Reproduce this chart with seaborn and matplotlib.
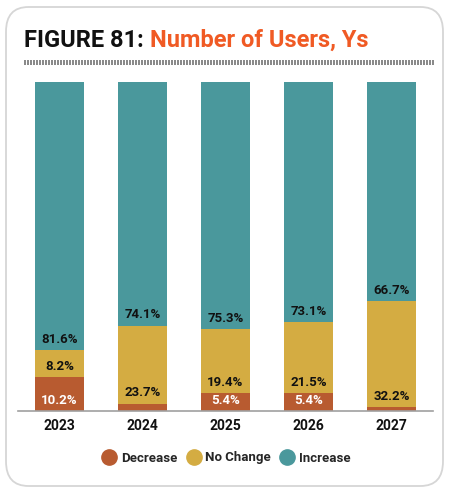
import numpy as np
import pandas as pd
import matplotlib
matplotlib.use("Agg")
import matplotlib.pyplot as plt
from matplotlib.lines import Line2D
from matplotlib.patches import FancyBboxPatch
import seaborn as sns

# Data (percent of respondents)
years = ["2023", "2024", "2025", "2026", "2027"]
decrease = [10.2, 2.2, 5.4, 5.4, 1.1]
no_change = [8.2, 23.7, 19.4, 21.5, 32.2]
increase = [81.6, 74.1, 75.3, 73.1, 66.7]

# Which decrease values get a label (tiny segments are unlabelled)
show_decrease = [True, False, True, True, False]

colors = {"Decrease": "#b85b30", "No Change": "#d4ac42", "Increase": "#4a989c"}

df = pd.DataFrame({"year": years, "Decrease": decrease,
                   "No Change": no_change, "Increase": increase})
df["cum_dec"] = df["Decrease"]
df["cum_nc"] = df["Decrease"] + df["No Change"]
df["cum_inc"] = df["cum_nc"] + df["Increase"]

sns.set_style("white")
plt.rcParams["font.family"] = ["Roboto", "DejaVu Sans"]

fig = plt.figure(figsize=(4.5, 4.92), dpi=100)
W, H = 450, 492

# card border
card = FancyBboxPatch((6 / W, 6 / H), 437 / W, 479 / H,
                      boxstyle="round,pad=0,rounding_size=0.05",
                      transform=fig.transFigure, facecolor="none",
                      edgecolor="#d6d6d6", linewidth=1.3, zorder=-1)
fig.patches.append(card)

ax = fig.add_axes([18 / W, 1 - 411 / H, 415 / W, 329 / H])
ax.set_facecolor("none")

# stacked bars: draw cumulative totals from the top layer down
for col, key in [("cum_inc", "Increase"), ("cum_nc", "No Change"),
                 ("cum_dec", "Decrease")]:
    sns.barplot(data=df, x="year", y=col, color=colors[key], width=0.6,
                ax=ax, saturation=1, linewidth=0, edgecolor="none")

ax.set_xlim(-0.5, 4.5)
ax.set_ylim(0, 100)
ax.set_xlabel("")
ax.set_ylabel("")
ax.set_yticks([])
for s in ["top", "right", "left"]:
    ax.spines[s].set_visible(False)
ax.spines["bottom"].set_color("#a0a0a0")
ax.spines["bottom"].set_linewidth(1.2)
ax.tick_params(axis="x", length=0, pad=6)
for lbl in ax.get_xticklabels():
    lbl.set_fontweight("bold")
    lbl.set_fontsize(10)
    lbl.set_color("#111111")

off = 3.3
for i in range(len(years)):
    if show_decrease[i]:
        ax.text(i, off, f"{decrease[i]}%", ha="center", va="center",
                color="white", fontsize=9.5, fontweight="bold")
    ax.text(i, df["cum_dec"][i] + off, f"{no_change[i]}%", ha="center",
            va="center", color="#111111", fontsize=9.5, fontweight="bold")
    ax.text(i, df["cum_nc"][i] + off, f"{increase[i]}%", ha="center",
            va="center", color="#111111", fontsize=9.5, fontweight="bold")

# title in two colours
t1 = fig.text(24 / W, 1 - 47 / H, "FIGURE 81:", fontsize=17,
              fontweight="bold", color="#111111")
fig.canvas.draw()
bb = t1.get_window_extent()
fig.text(bb.x1 / fig.bbox.width + 6 / W, 1 - 47 / H, "Number of Users, Ys",
         fontsize=17, fontweight="bold", color="#f05a24")

# hatched rule under the title
rule = Line2D([24 / W, 433 / W], [1 - 62 / H, 1 - 62 / H],
              transform=fig.transFigure, color="#8a8a8a", linewidth=3.6,
              dashes=(0.22, 0.34), solid_capstyle="butt", antialiased=False)
fig.lines.append(rule)

# legend
handles = [Line2D([0], [0], marker="o", linestyle="", markersize=11,
                  markerfacecolor=colors[k], markeredgecolor=colors[k],
                  label=k) for k in ["Decrease", "No Change", "Increase"]]
leg = fig.legend(handles=handles, loc="center", ncol=3,
                 bbox_to_anchor=(226 / W, 1 - 458 / H), frameon=False,
                 handletextpad=0.3, columnspacing=0.6, handlelength=1.2,
                 prop={"weight": "bold", "size": 9.5})

fig.savefig("out.png", dpi=100)
